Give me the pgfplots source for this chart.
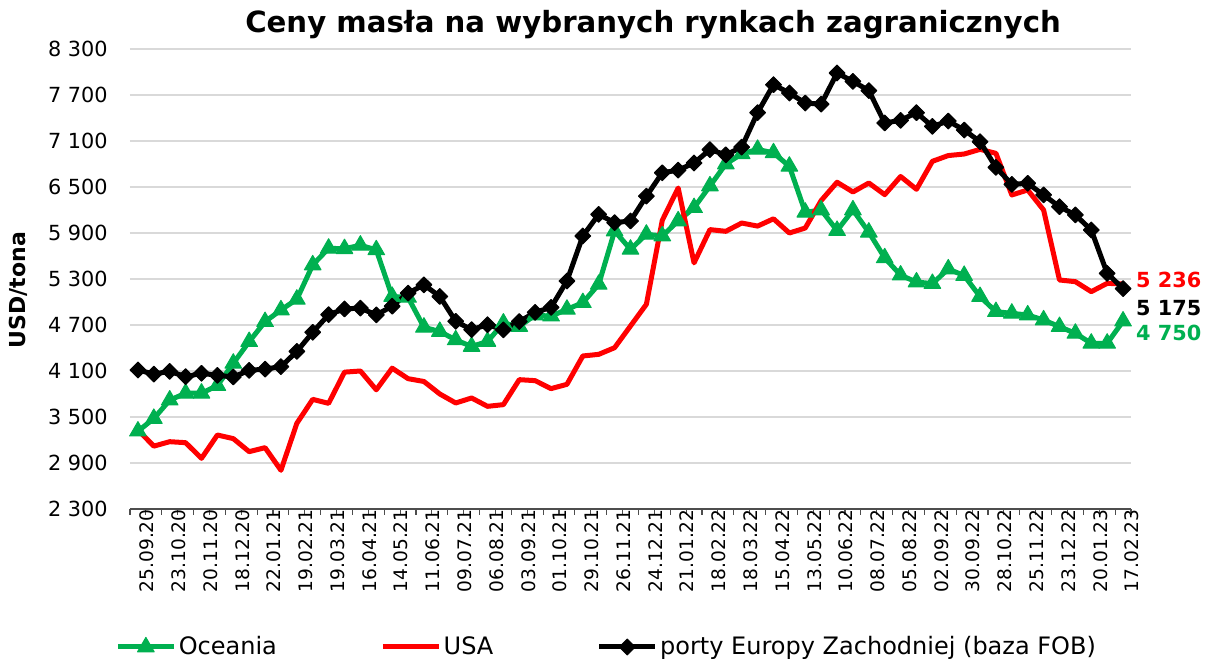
\documentclass[border=0pt]{standalone}
\usepackage{fontspec}
\setmainfont{DejaVu Sans}
\usepackage{pgfplots}
\pgfplotsset{compat=1.18}
\usepackage{pgfplotstable}
\definecolor{oce}{HTML}{00B050}
\definecolor{usa}{HTML}{FF0000}
\definecolor{gridc}{HTML}{D9D9D9}
\definecolor{axc}{HTML}{4D4D4D}

\pgfplotstableread{
i oce usa eur
0 3315 3330 4113
1 3480 3120 4060
2 3720 3178 4095
3 3810 3165 4026
4 3810 2961 4070
5 3910 3265 4044
6 4200 3218 4022
7 4483 3048 4108
8 4743 3100 4125
9 4896 2805 4157
10 5035 3417 4355
11 5483 3730 4605
12 5700 3678 4835
13 5695 4085 4910
14 5740 4100 4920
15 5680 3855 4832
16 5072 4137 4945
17 5060 4000 5115
18 4670 3963 5224
19 4615 3800 5072
20 4505 3683 4748
21 4420 3748 4639
22 4485 3639 4704
23 4724 3661 4637
24 4680 3987 4745
25 4830 3974 4865
26 4815 3870 4930
27 4904 3926 5274
28 4991 4296 5861
29 5230 4317 6143
30 5926 4404 6035
31 5687 4687 6057
32 5883 4970 6380
33 5861 6065 6685
34 6057 6487 6720
35 6230 5510 6813
36 6513 5944 6987
37 6800 5922 6920
38 6932 6030 7020
39 6990 5990 7470
40 6945 6085 7835
41 6770 5900 7726
42 6170 5965 7595
43 6200 6323 7580
44 5932 6562 7987
45 6200 6435 7878
46 5910 6552 7758
47 5575 6400 7335
48 5350 6637 7370
49 5260 6470 7470
50 5240 6835 7290
51 5430 6910 7360
52 5345 6930 7243
53 5070 6991 7091
54 4874 6939 6756
55 4852 6396 6535
56 4830 6461 6548
57 4765 6200 6396
58 4678 5287 6243
59 4591 5265 6135
60 4461 5135 5939
61 4461 5243 5374
62 4750 5236 5175
}\data

\begin{document}
\begin{tikzpicture}
\path[use as bounding box] (0,0) rectangle (605pt,331pt);
\begin{axis}[
  at={(65pt,76.5pt)}, anchor=south west,
  scale only axis, width=500.5pt, height=230pt,
  xmin=-0.5, xmax=62.5, ymin=2300, ymax=8300,
  clip=false,
  axis x line*=bottom, axis y line*=left,
  y axis line style={draw=none},
  x axis line style={draw=axc, line width=0.7pt},
  ytick={2300,2900,...,8300},
  yticklabels={2 300,2 900,3 500,4 100,4 700,5 300,5 900,6 500,7 100,7 700,8 300},
  ytick style={draw=none},
  ymajorgrids,
  major grid style={draw=gridc, line width=0.6pt},
  xtick={0,2,...,62},
  xticklabels={25.09.20,23.10.20,20.11.20,18.12.20,22.01.21,19.02.21,19.03.21,16.04.21,14.05.21,11.06.21,09.07.21,06.08.21,03.09.21,01.10.21,29.10.21,26.11.21,24.12.21,21.01.22,18.02.22,18.03.22,15.04.22,13.05.22,10.06.22,08.07.22,05.08.22,02.09.22,30.09.22,28.10.22,25.11.22,23.12.22,20.01.23,17.02.23},
  minor xtick={-0.5,0.5,...,62.5},
  tick align=outside,
  major tick length=0pt,
  minor tick length=2.8pt,
  xtick style={draw=axc, line width=0.6pt},
  xticklabel style={rotate=90, anchor=east, inner sep=0pt, yshift=-4.5pt, font=\fontsize{9.3}{11}\selectfont},
  yticklabel style={anchor=east, inner sep=0pt, xshift=-11pt, font=\fontsize{10.4}{12}\selectfont},
  every axis title shift=0pt,
  title={Ceny masła na wybranych rynkach zagranicznych},
  title style={at={(axis description cs:0.5225,1.0348)}, anchor=base, inner sep=0pt, yshift=0pt, font=\fontsize{14.6}{17}\selectfont\bfseries},
  ylabel={USD/tona},
  ylabel style={at={(axis description cs:-0.1119,0.476)}, anchor=center, inner sep=0pt, font=\fontsize{11}{13}\selectfont\bfseries},
  legend columns=3,
  legend style={at={(axis description cs:-0.015,-0.3)}, anchor=west, draw=none, fill=none, inner sep=0pt,
    nodes={inner sep=1.2pt}, font=\fontsize{12}{14}\selectfont,
    /tikz/every even column/.append style={column sep=50.5pt}},
  legend image code/.code={\draw[mark repeat=2,mark phase=2,#1] plot coordinates {(0pt,0pt)(14pt,0pt)(28pt,0pt)};},
]
\addplot[color=oce, line width=2.5pt, line join=round, mark=triangle*, mark size=4.8pt,
  mark options={solid, fill=oce, line width=0.5pt}] table[x=i, y=oce]{\data};
\addlegendentry{Oceania}
\addplot[color=usa, line width=2.5pt, line join=round, mark=none] table[x=i, y=usa]{\data};
\addlegendentry{USA}
\addplot[color=black, line width=2.5pt, line join=round, mark=square*, mark size=2.8pt,
  mark options={solid, rotate=45, fill=black, line width=0.5pt}] table[x=i, y=eur]{\data};
\addlegendentry{porty Europy Zachodniej (baza FOB)}
\node[anchor=west, inner sep=0pt, text=usa, font=\fontsize{10.4}{12}\selectfont\bfseries] at (axis cs:62.8,5287) {5 236};
\node[anchor=west, inner sep=0pt, text=black, font=\fontsize{10.4}{12}\selectfont\bfseries] at (axis cs:62.8,4922) {5 175};
\node[anchor=west, inner sep=0pt, text=oce, font=\fontsize{10.4}{12}\selectfont\bfseries] at (axis cs:62.8,4596) {4 750};
\end{axis}
\end{tikzpicture}
\end{document}
